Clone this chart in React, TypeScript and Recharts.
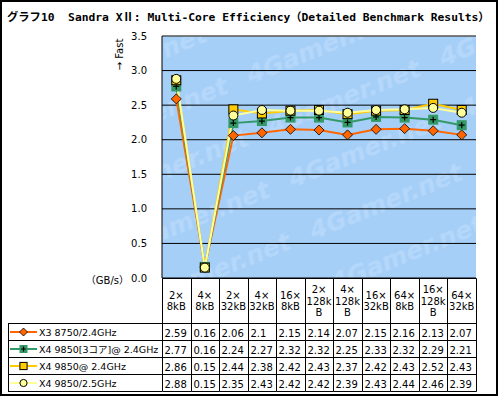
import React from 'react';
import { ComposedChart, Line, XAxis, YAxis, CartesianGrid, ReferenceLine, Legend } from 'recharts';

// categories, one label line per "\n"
const CATEGORIES = [
  '2×\n8kB', '4×\n8kB', '2×\n32kB', '4×\n32kB', '16×\n8kB', '2×\n128k\nB',
  '4×\n128k\nB', '16×\n32kB', '64×\n8kB', '16×\n128k\nB', '64×\n32kB',
];
const X3_8750_24 = [2.59, 0.16, 2.06, 2.1, 2.15, 2.14, 2.07, 2.15, 2.16, 2.13, 2.07];
const X4_9850_3CORE_24 = [2.77, 0.16, 2.24, 2.27, 2.32, 2.32, 2.25, 2.33, 2.32, 2.29, 2.21];
const X4_9850_24 = [2.86, 0.15, 2.44, 2.38, 2.42, 2.43, 2.37, 2.42, 2.43, 2.52, 2.43];
const X4_9850_25 = [2.88, 0.15, 2.35, 2.43, 2.42, 2.42, 2.39, 2.43, 2.44, 2.46, 2.39];
const Y_TICKS = [0, 0.5, 1, 1.5, 2, 2.5, 3, 3.5];

const SERIES = [
  { key: 'x3', name: 'X3 8750/2.4GHz', values: X3_8750_24, color: '#FF6600', marker: 'diamond' },
  { key: 'x4c3', name: 'X4 9850[3コア]@ 2.4GHz', values: X4_9850_3CORE_24, color: '#339966', marker: 'plus' },
  { key: 'x4', name: 'X4 9850@ 2.4GHz', values: X4_9850_24, color: '#FFCC00', marker: 'square' },
  { key: 'x4b', name: 'X4 9850/2.5GHz', values: X4_9850_25, color: '#FFFF99', marker: 'circle' },
];

const data = CATEGORIES.map((cat, i) => {
  const row: Record<string, string | number> = { cat };
  SERIES.forEach((s) => {
    row[s.key] = s.values[i];
  });
  return row;
});

const SMALL_FONT = "'DejaVu Sans', 'Noto Sans CJK JP', sans-serif";
const PLOT_BG = '#A6CFF8';
const HEADER_H = 45;
const ROW_H = 17;

function Marker({ type, color, cx, cy, small = false }: any) {
  const k = small ? 0.8 : 1;
  if (cx == null || cy == null) return null;
  if (type === 'diamond') {
    const r = 5 * k;
    return (
      <polygon
        points={`${cx},${cy - r} ${cx + r},${cy} ${cx},${cy + r} ${cx - r},${cy}`}
        fill={color}
        stroke="#000"
        strokeWidth={0.8}
      />
    );
  }
  if (type === 'plus') {
    const h = 5 * k;
    const p = 3 * k;
    return (
      <g>
        <rect x={cx - h} y={cy - h} width={2 * h} height={2 * h} fill={color} />
        <path d={`M${cx - p},${cy}H${cx + p}M${cx},${cy - p}V${cy + p}`} stroke="#000" strokeWidth={1.2} />
      </g>
    );
  }
  if (type === 'square') {
    const h = 4.5 * k;
    return <rect x={cx - h} y={cy - h} width={2 * h} height={2 * h} fill={color} stroke="#000" strokeWidth={1} />;
  }
  return <circle cx={cx} cy={cy} r={4.5 * k} fill={color} stroke="#000" strokeWidth={1} />;
}

// x axis tick = one column of the data table
function TableTick(props: any) {
  const { x, y, payload, index, width, visibleTicksCount } = props;
  const half = width / visibleTicksCount / 2;
  const left = Math.round(x - half) + 0.5;
  const right = Math.round(x + half) + 0.5;
  const top = Math.floor(y) + 0.5;
  const lines = String(payload.value).split('\n');
  const lh = 11.5;
  const first = top + HEADER_H / 2 - ((lines.length - 1) * lh) / 2 + 3.5;
  const bottom = top + HEADER_H + ROW_H * SERIES.length;
  return (
    <g fontFamily={SMALL_FONT} fontSize={10} fill="#000">
      {lines.map((l, i) => (
        <text key={i} x={x} y={first + i * lh} textAnchor="middle">
          {l}
        </text>
      ))}
      {SERIES.map((s, i) => (
        <text key={s.key} x={left + 2} y={top + HEADER_H + i * ROW_H + 13}>
          {String(s.values[index])}
        </text>
      ))}
      {[0, HEADER_H, ...SERIES.map((_, i) => HEADER_H + ROW_H * (i + 1))].map((d) => (
        <line key={d} x1={left} x2={right} y1={top + d} y2={top + d} stroke="#000" />
      ))}
      {index === 0 && <line x1={left} x2={left} y1={top} y2={bottom} stroke="#000" />}
      <line x1={right} x2={right} y1={top} y2={bottom} stroke="#000" />
    </g>
  );
}

function TableLegend({ payload }: any) {
  const items = [...(payload || [])].sort(
    (a: any, b: any) =>
      SERIES.findIndex((s) => s.key === a.dataKey) - SERIES.findIndex((s) => s.key === b.dataKey),
  );
  return (
    <div
      style={{
        borderTop: '1px solid #000',
        borderLeft: '1px solid #000',
        width: 154,
        boxSizing: 'border-box',
        fontFamily: SMALL_FONT,
        fontSize: 9.5,
        color: '#000',
      }}
    >
      {items.map((entry: any) => {
        const s = SERIES.find((d) => d.key === entry.dataKey) || SERIES[0];
        return (
          <div
            key={s.key}
            style={{
              height: ROW_H,
              borderBottom: '1px solid #000',
              boxSizing: 'border-box',
              display: 'flex',
              alignItems: 'center',
              whiteSpace: 'nowrap',
              overflow: 'hidden',
            }}
          >
            <svg width={29} height={16} style={{ display: 'block', flex: 'none' }}>
              <line x1={1} x2={28} y1={8} y2={8} stroke={s.color} strokeWidth={2} />
              <Marker type={s.marker} color={s.color} cx={14.5} cy={8} small />
            </svg>
            <span style={{ marginLeft: 1 }}>{entry.value}</span>
          </div>
        );
      })}
    </div>
  );
}

export default function App() {
  return (
    <div style={{ position: 'absolute', left: 0, top: 0, width: 500, height: 397, background: '#fff' }}>
      {/* plot background with the faint site watermark */}
      <svg width={500} height={397} style={{ position: 'absolute', left: 0, top: 0 }}>
        <defs>
          <pattern
            id="wm"
            width={185}
            height={56}
            patternUnits="userSpaceOnUse"
            patternTransform="rotate(-22) translate(10 20)"
          >
            <text
              x={6}
              y={40}
              fontFamily="'DejaVu Sans', sans-serif"
              fontWeight="bold"
              fontStyle="italic"
              fontSize={25}
              fill="#B4D7FA"
            >
              4Gamer.net
            </text>
          </pattern>
        </defs>
        <rect x={162} y={36} width={314} height={242} fill={PLOT_BG} />
        <rect x={162} y={36} width={314} height={242} fill="url(#wm)" />
      </svg>
      <ComposedChart
        width={500}
        height={397}
        data={data}
        margin={{ top: 36, right: 24, bottom: 4, left: 102 }}
      >
        <CartesianGrid vertical={false} stroke="#000" fill="none" />
        <ReferenceLine y={3.5} stroke="#808080" />
        <XAxis
          dataKey="cat"
          scale="band"
          interval={0}
          height={115}
          tickSize={0}
          tickMargin={0}
          axisLine={false}
          tickLine={false}
          tick={<TableTick />}
        />
        <YAxis
          domain={[0, 3.5]}
          ticks={Y_TICKS}
          interval={0}
          width={60}
          tickSize={0}
          tickMargin={15}
          tickLine={false}
          axisLine={{ stroke: '#000' }}
          tickFormatter={(v: number) => v.toFixed(1)}
          tick={{ fill: '#000', fontSize: 10, fontFamily: SMALL_FONT }}
        />
        <YAxis
          yAxisId="frame"
          orientation="right"
          domain={[0, 3.5]}
          width={0}
          tick={false}
          tickLine={false}
          axisLine={{ stroke: '#808080' }}
        />
        <Legend
          layout="vertical"
          align="center"
          verticalAlign="middle"
          wrapperStyle={{ left: 8, top: 323, width: 154, height: 68 }}
          content={<TableLegend />}
        />
        {SERIES.map((s) => (
          <Line
            key={s.key}
            dataKey={s.key}
            name={s.name}
            stroke={s.color}
            strokeWidth={2}
            isAnimationActive={false}
            activeDot={false}
            dot={(p: any) => (
              <Marker key={`${s.key}-${p.index}`} type={s.marker} color={s.color} cx={p.cx} cy={p.cy} />
            )}
          />
        ))}
      </ComposedChart>
      <svg
        width={500}
        height={397}
        style={{ position: 'absolute', left: 0, top: 0, pointerEvents: 'none' }}
      >
        <rect x={1} y={1} width={496} height={394} fill="none" stroke="#000" strokeWidth={2} />
        <text
          x={7}
          y={21}
          fontFamily="'DejaVu Sans Mono', 'Noto Sans CJK JP', monospace"
          fontWeight="bold"
          fontSize={11.3}
          fill="#000"
          style={{ whiteSpace: 'pre' }}
        >
          {'グラフ10  Sandra XⅡ: Multi-Core Efficiency（Detailed Benchmark Results）'}
        </text>
        <text
          x={0}
          y={0}
          transform="translate(123 54.5) rotate(-90)"
          textAnchor="middle"
          fontFamily={SMALL_FONT}
          fontSize={10}
          fill="#000"
        >
          → Fast
        </text>
        <text x={129} y={284} textAnchor="end" fontFamily={SMALL_FONT} fontSize={10} fill="#000">
          （GB/s）
        </text>
      </svg>
    </div>
  );
}
